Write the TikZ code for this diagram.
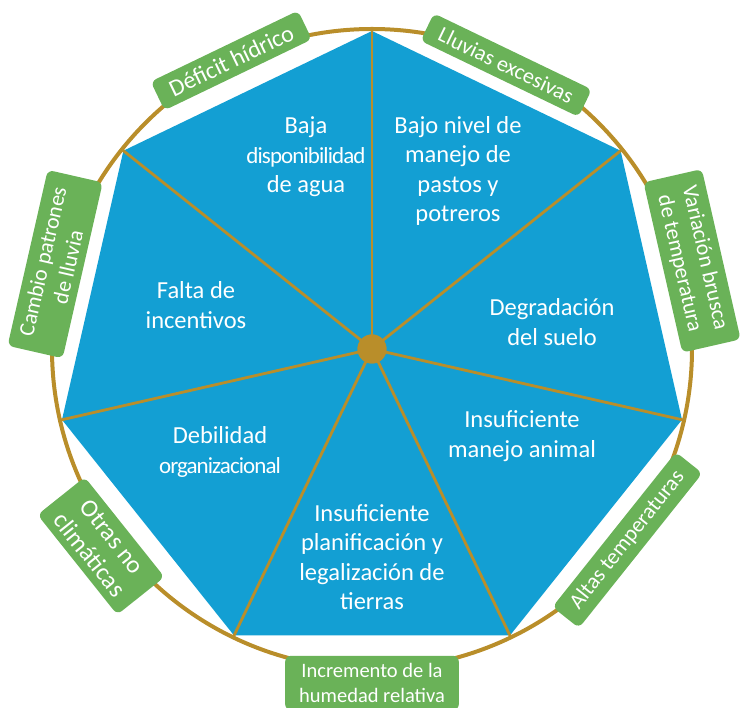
\documentclass[tikz,border=0pt]{standalone}
\usepackage{fontspec}
\setmainfont{Carlito}
\definecolor{wedgeblue}{RGB}{19, 159, 211}
\definecolor{ringgold}{RGB}{185, 142, 42}
\definecolor{riskgreen}{RGB}{106, 178, 88}
\usepackage{tikz}
\usetikzlibrary{calc}
\newcommand{\tight}[1]{{\fontsize{23}{29.5}\selectfont\addfontfeature{LetterSpace=-4}#1}}

\begin{document}
\begin{tikzpicture}[x=1pt, y=1pt,
  cause/.style={text=white, font=\fontsize{24.5}{29.5}\selectfont, align=center, inner sep=0pt},
  risk/.style={fill=riskgreen, rounded corners=6pt, text=white, align=center,
               font=\fontsize{22}{26}\selectfont, inner xsep=14pt, inner ysep=7.5pt},
]
\useasboundingbox (-372,-359) rectangle (372,349);

% Ring
\draw[ringgold, line width=4pt] (0,0) circle (320);

% Heptagon corners
\foreach \i in {0,...,6}
  \coordinate (v\i) at ({90-\i*360/7}:318);
\fill[wedgeblue] (v0) -- (v1) -- (v2) -- (v3) -- (v4) -- (v5) -- (v6) -- cycle;

% Spokes and hub
\node[circle, fill=ringgold, minimum size=29pt, inner sep=0pt] (hub) at (0,0) {};
\foreach \i in {0,...,6}
  \draw[ringgold, line width=2.8pt] (hub.center) -- ($(hub.center)!1.01!(v\i)$);
\node[circle, fill=ringgold, minimum size=29pt, inner sep=0pt] at (hub) {};

% Causes in the wedges
\node[cause] (agua) at (-66, 192) {Baja\\\tight{disponibilidad}\\de agua};
\node[cause] (pastos) at (86, 178) {Bajo nivel de\\manejo de\\pastos y\\potreros};
\node[cause] (suelo) at (180, 27) {Degradación\\del suelo};
\node[cause] (animal) at (150, -87) {Insuficiente\\manejo animal};
\node[cause] (tierras) at (0, -208) {Insuficiente\\planificación y\\legalización de\\tierras};
\node[cause] (organiz) at (-152, -103) {Debilidad\\\tight{organizacional}};
\node[cause] (incent) at (-176, 44) {Falta de\\incentivos};

% Climate and other factors on the ring
\node[risk, rotate=25.71, font=\fontsize{24}{28}\selectfont] (deficit) at (116:321) {Déficit hídrico};
\node[risk, rotate=-25.71] (lluvias) at (64.7:314) {Lluvias excesivas};
\node[risk, rotate=-77.14] (variacion) at (15.4:332) {Variación brusca\\de temperatura};
\node[risk, rotate=51.43] (altas) at (-36.8:319) {Altas temperaturas};
\node[risk, font=\fontsize{20.5}{25}\selectfont] (humedad) at (-90:334) {Incremento de la\\humedad relativa};
\node[risk, rotate=-51.43, font=\fontsize{25}{29}\selectfont] (otras) at (216:335) {Otras no\\climáticas};
\node[risk, rotate=77.14] (cambio) at (165:328) {Cambio patrones\\de lluvia};
\end{tikzpicture}
\end{document}
